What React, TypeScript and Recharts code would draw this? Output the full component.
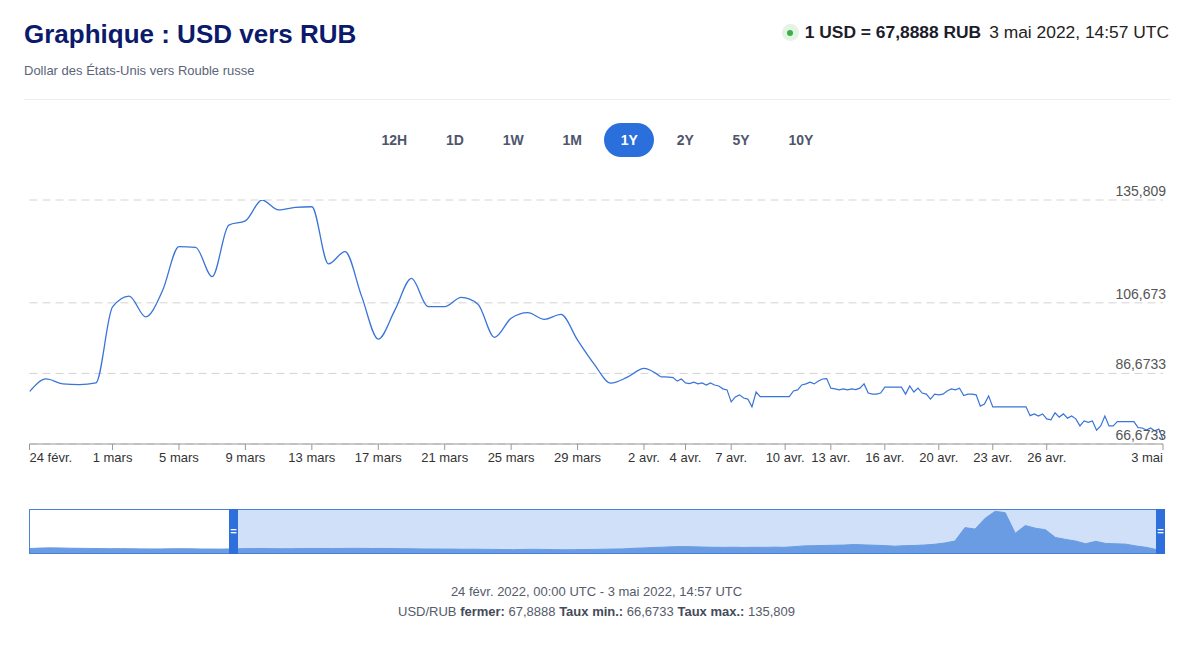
import React from 'react'
import { LineChart, Line, XAxis, YAxis, CartesianGrid, AreaChart, Area } from 'recharts'

const FONT = '"Liberation Sans", Arial, Helvetica, sans-serif'

// daily closes, 24 févr. -> 3 avr. (one slot per day)
const dailyRates = [
  81.5, 85.1, 83.7, 83.5, 84.0, 105.5, 108.6, 102.7, 110.0, 122.6,
  122.4, 114.1, 128.7, 129.9, 135.809, 133.0, 133.7, 133.9, 117.7, 121.2,
  108.5, 96.4, 104.6, 113.6, 105.6, 105.6, 108.2, 106.3, 96.9, 102.3,
  103.9, 102.0, 103.4, 96.1, 89.3, 83.9, 85.6, 88.1, 85.7,
]

// intraday quotes, 3 avr. -> 3 mai (a quarter slot each)
const intradayRates = [
  85.7, 85.7, 85.6, 85.5, 84.5, 85.1, 84.0, 83.8, 84.2, 83.7,
  84.0, 83.4, 84.0, 83.4, 83.1, 82.3, 82.0, 78.6, 80.0, 80.6,
  79.7, 79.4, 77.2, 81.4, 80.1, 80.1, 80.1, 80.1, 80.1, 80.1,
  80.1, 80.1, 81.7, 82.0, 83.4, 83.7, 84.2, 83.7, 84.5, 85.1,
  85.2, 82.5, 82.3, 82.0, 82.3, 82.0, 82.3, 82.1, 82.5, 83.7,
  81.1, 80.8, 80.8, 81.1, 82.8, 82.8, 82.8, 82.8, 82.8, 80.8,
  83.1, 81.4, 82.5, 81.1, 80.8, 79.4, 80.8, 80.6, 80.8, 81.7,
  82.3, 82.0, 82.5, 80.4, 80.8, 80.8, 80.6, 77.4, 78.0, 80.3,
  77.2, 77.2, 77.2, 77.2, 77.2, 77.2, 77.2, 77.2, 77.2, 74.7,
  75.2, 74.6, 75.2, 73.8, 73.5, 75.5, 74.3, 75.2, 74.0, 74.6,
  73.8, 71.8, 73.2, 72.8, 73.2, 70.6, 71.8, 74.6, 71.8, 71.8,
  73.0, 73.0, 73.0, 73.0, 73.0, 71.3, 71.2, 70.6, 71.2, 70.4,
  70.9, 67.9,
]
const INTRADAY_STEP = 0.25

const dayTickIdx = [0, 5, 9, 13, 17, 21, 25, 29, 33, 37]
const dayTickLabels = ['24 févr.', '1 mars', '5 mars', '9 mars', '13 mars', '17 mars', '21 mars', '25 mars', '29 mars', '2 avr.']
const intradayTickIdx = [6, 17, 30, 41, 54, 67, 80, 93, 121]
const intradayTickLabels = ['4 avr.', '7 avr.', '10 avr.', '13 avr.', '16 avr.', '20 avr.', '23 avr.', '26 avr.', '3 mai']

const yTicks = [66.6733, 86.6733, 106.673, 135.809]

// navigator: the whole year, coarse
const navigatorRates = [
  73.5, 74.2, 74.6, 74.4, 74.0, 73.8, 73.6, 73.4, 73.2, 73.3,
  73.1, 72.9, 72.8, 72.8, 73.0, 73.2, 73.0, 72.7, 72.6, 72.5,
  72.9, 73.2, 73.4, 73.5, 73.3, 73.1, 73.2, 73.4, 73.6, 73.5,
  73.4, 73.6, 73.8, 73.7, 73.5, 73.6, 73.4, 73.2, 73.0, 72.8,
  72.7, 72.6, 72.5, 72.3, 72.4, 72.2, 72.0, 71.8, 71.6, 71.9,
  72.2, 72.0, 71.7, 71.4, 71.5, 71.8, 72.0, 72.3, 72.6, 72.9,
  73.8, 74.4, 75.2, 75.8, 76.5, 76.8, 76.4, 75.9, 75.6, 75.4,
  75.7, 75.3, 75.6, 75.4, 75.8, 75.5, 76.6, 77.9, 78.3, 78.6,
  78.9, 79.3, 80.2, 79.6, 79.0, 78.4, 77.4, 78.3, 78.6, 79.4,
  80.6, 82.8, 86.0, 108.5, 106.0, 124.0, 135.8, 133.5, 99.0, 112.0,
  107.5, 105.0, 92.0, 88.8, 86.0, 81.5, 85.5, 82.0, 81.4, 80.8,
  77.8, 75.5, 72.0,
]

const ranges = ['12H', '1D', '1W', '1M', '1Y', '2Y', '5Y', '10Y']
const activeRange = '1Y'

const lastDay = dailyRates.length - 1
const intradaySlot = (j: number) => lastDay + j * INTRADAY_STEP

const rows: { slot: number; smooth?: number; dense?: number }[] = []
dailyRates.forEach((v, d) => rows.push({ slot: d, smooth: v }))
rows[lastDay].dense = intradayRates[0]
intradayRates.slice(1).forEach((v, j) => rows.push({ slot: intradaySlot(j + 1), dense: v }))

const tickSlots = [...dayTickIdx, ...intradayTickIdx.map(intradaySlot)]
const tickLabels = [...dayTickLabels, ...intradayTickLabels]
const xMax = intradaySlot(intradayRates.length - 1)

const navData = navigatorRates.map((v, i) => ({ i, v }))

const fmt = (v: number) => String(v).replace('.', ',')

const XTick = (props: any) => {
  const { x, y, payload } = props
  const k = tickSlots.indexOf(payload.value)
  const anchor = k === 0 ? 'start' : k === tickSlots.length - 1 ? 'end' : 'middle'
  return (
    <text x={x} y={y} dy="0.71em" textAnchor={anchor} fontSize={13} fill="#333" fontFamily={FONT}>
      {tickLabels[k]}
    </text>
  )
}

const YTick = (props: any) => {
  const { x, y, payload } = props
  return (
    <text x={x + 3} y={y - 4} textAnchor="end" fontSize={14} fill="#555" fontFamily={FONT}>
      {fmt(payload.value)}
    </text>
  )
}

const LINE = '#3a74d8'

export default function App() {
  return (
    <div
      style={{
        position: 'fixed',
        left: 0,
        top: 0,
        width: 1200,
        height: 658,
        background: '#fff',
        overflow: 'hidden',
        fontFamily: FONT,
      }}
    >
      <div style={{ position: 'absolute', left: 24, top: 21, fontSize: 26, lineHeight: '26px', fontWeight: 'bold', color: '#0b1a6b', whiteSpace: 'nowrap' }}>
        Graphique : USD vers RUB
      </div>
      <div style={{ position: 'absolute', left: 24, top: 64, fontSize: 13, lineHeight: '13px', color: '#5b6478', whiteSpace: 'nowrap' }}>
        Dollar des États-Unis vers Rouble russe
      </div>

      <div style={{ position: 'absolute', right: 31, top: 24, fontSize: 17.4, lineHeight: '17px', display: 'flex', alignItems: 'center', whiteSpace: 'nowrap' }}>
        <span style={{ width: 17, height: 17, borderRadius: 9, background: '#e3f3e4', display: 'flex', alignItems: 'center', justifyContent: 'center', marginRight: 6 }}>
          <span style={{ width: 6, height: 6, borderRadius: 3, background: '#3cb043' }} />
        </span>
        <span style={{ fontWeight: 'bold', color: '#1c1d2b' }}>1 USD = 67,8888 RUB</span>
        <span style={{ marginLeft: 8, color: '#222' }}>3 mai 2022, 14:57 UTC</span>
      </div>

      <div style={{ position: 'absolute', left: 24, top: 99, width: 1146, height: 1, background: '#eceef2' }} />

      <div style={{ position: 'absolute', left: 365, top: 123, display: 'flex', gap: 5.8 }}>
        {ranges.map((r) => (
          <div
            key={r}
            style={{
              height: 34,
              lineHeight: '34px',
              padding: '0 16.5px',
              borderRadius: 17,
              fontSize: 14,
              fontWeight: 'bold',
              color: r === activeRange ? '#fff' : '#4f566b',
              background: r === activeRange ? '#2b6fdc' : 'transparent',
            }}
          >
            {r}
          </div>
        ))}
      </div>

      <div style={{ position: 'absolute', left: 0, top: 180 }}>
        <LineChart width={1200} height={300} data={rows} margin={{ top: 20, right: 36, left: 29.5, bottom: 0 }}>
          <CartesianGrid vertical={false} stroke="#d4d4d4" strokeDasharray="8 5" />
          <XAxis
            dataKey="slot"
            type="number"
            domain={[0, xMax]}
            ticks={tickSlots}
            interval={0}
            height={36}
            tickSize={6}
            tickMargin={3}
            axisLine={{ stroke: '#999' }}
            tickLine={{ stroke: '#999' }}
            tick={<XTick />}
            allowDataOverflow
          />
          <YAxis
            orientation="right"
            type="number"
            domain={[yTicks[0], yTicks[yTicks.length - 1]]}
            ticks={yTicks}
            width={1}
            axisLine={false}
            tickLine={false}
            tickSize={0}
            tickMargin={0}
            tick={<YTick />}
            allowDataOverflow
          />
          <Line dataKey="smooth" type="monotone" stroke={LINE} strokeWidth={1.3} dot={false} activeDot={false} isAnimationActive={false} />
          <Line dataKey="dense" type="linear" stroke={LINE} strokeWidth={1.2} dot={false} activeDot={false} isAnimationActive={false} />
        </LineChart>
      </div>

      {/* navigator */}
      <div style={{ position: 'absolute', left: 233, top: 510, width: 924, height: 43, background: '#cfe0f8' }} />
      <div style={{ position: 'absolute', left: 0, top: 510 }}>
        <AreaChart width={1200} height={43} data={navData} margin={{ top: 0, right: 44, left: 30, bottom: 0 }}>
          <XAxis dataKey="i" type="number" domain={[0, navigatorRates.length - 1]} hide />
          <YAxis type="number" domain={[66, 138]} hide />
          <Area dataKey="v" type="linear" stroke="#6a9ce3" strokeWidth={1} fill="#6a9ce3" fillOpacity={1} isAnimationActive={false} dot={false} activeDot={false} />
        </AreaChart>
      </div>
      <div style={{ position: 'absolute', left: 29, top: 509, width: 1136, height: 45, border: '1px solid #4a80da', boxSizing: 'border-box' }} />
      {[229, 1156].map((l) => (
        <div
          key={l}
          style={{
            position: 'absolute',
            left: l,
            top: 509,
            width: 9,
            height: 45,
            background: '#2f6fdc',
            color: '#fff',
            fontSize: 11,
            lineHeight: '45px',
            textAlign: 'center',
            fontWeight: 'bold',
          }}
        >
          =
        </div>
      ))}

      <div style={{ position: 'absolute', left: 0, top: 585, width: 1193, textAlign: 'center', fontSize: 13, lineHeight: '13px', color: '#555b6b' }}>
        24 févr. 2022, 00:00 UTC - 3 mai 2022, 14:57 UTC
      </div>
      <div style={{ position: 'absolute', left: 0, top: 605, width: 1193, textAlign: 'center', fontSize: 13, lineHeight: '13px', color: '#555b6b' }}>
        USD/RUB <b style={{ color: '#444a5a' }}>fermer:</b> 67,8888 <b style={{ color: '#444a5a' }}>Taux min.:</b> 66,6733{' '}
        <b style={{ color: '#444a5a' }}>Taux max.:</b> 135,809
      </div>
    </div>
  )
}
